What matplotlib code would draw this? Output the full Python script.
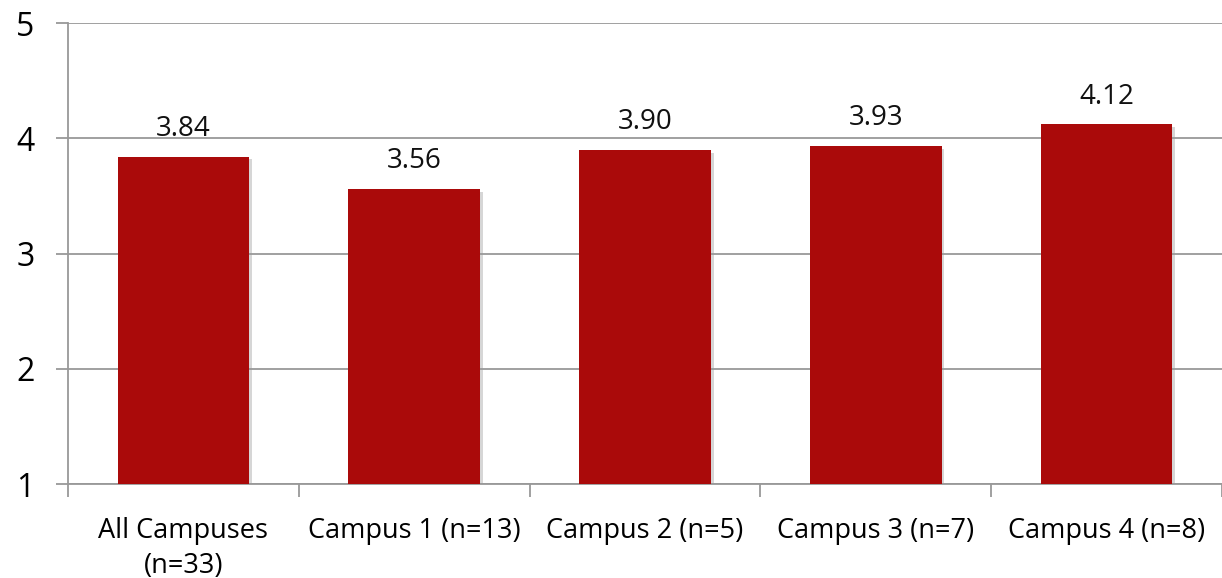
import matplotlib.pyplot as plt
import matplotlib.patheffects as pe
import numpy as np

# 各校区平均得分
categories = ["All Campuses\n(n=33)", "Campus 1 (n=13)", "Campus 2 (n=5)",
              "Campus 3 (n=7)", "Campus 4 (n=8)"]
scores = [3.84, 3.56, 3.90, 3.93, 4.12]
value_labels = ["3.84", "3.56", "3.90", "3.93", "4.12"]
y_ticks = [1, 2, 3, 4, 5]

plt.rcParams['font.family'] = ['Open Sans', 'DejaVu Sans']

fig = plt.figure(figsize=(12.22, 5.78), dpi=100)
ax = fig.add_axes([0.0556, 0.1626, 0.9444, 0.7976])

x = np.arange(len(categories))
bars = ax.bar(x, np.array(scores) - 1, bottom=1, width=0.57, color="#AA0A0A", zorder=3,
              path_effects=[pe.SimplePatchShadow(offset=(2, -2), shadow_rgbFace="#999999", alpha=0.4),
                            pe.Normal()])

for xi, v, lab in zip(x, scores, value_labels):
    ax.annotate(lab, (xi, v), xytext=(0, 15), textcoords="offset points",
                ha="center", va="baseline", fontsize=20, color="#111111")

ax.set_xlim(-0.5, len(categories) - 0.5)
ax.set_ylim(1, 5)
ax.set_yticks(y_ticks)
ax.set_yticklabels([str(t) for t in y_ticks], fontsize=23)
ax.grid(axis="y", color="#999999", linewidth=1.3, zorder=0)

# 类别边界处的刻度
ax.set_xticks(np.arange(len(categories) + 1) - 0.5)
ax.set_xticklabels([])
ax.set_xticks(x, minor=True)
ax.set_xticklabels(categories, minor=True, fontsize=19.5, linespacing=1.3)
ax.tick_params(axis="x", which="minor", length=0, pad=24)
ax.tick_params(axis="x", which="major", length=9, color="#999999", width=1.3)
ax.tick_params(axis="y", length=9, color="#999999", width=1.3, pad=15)

for side in ["top", "right"]:
    ax.spines[side].set_visible(False)
for side in ["left", "bottom"]:
    ax.spines[side].set_color("#999999")
    ax.spines[side].set_linewidth(1.3)

fig.savefig("out.png", dpi=100)
